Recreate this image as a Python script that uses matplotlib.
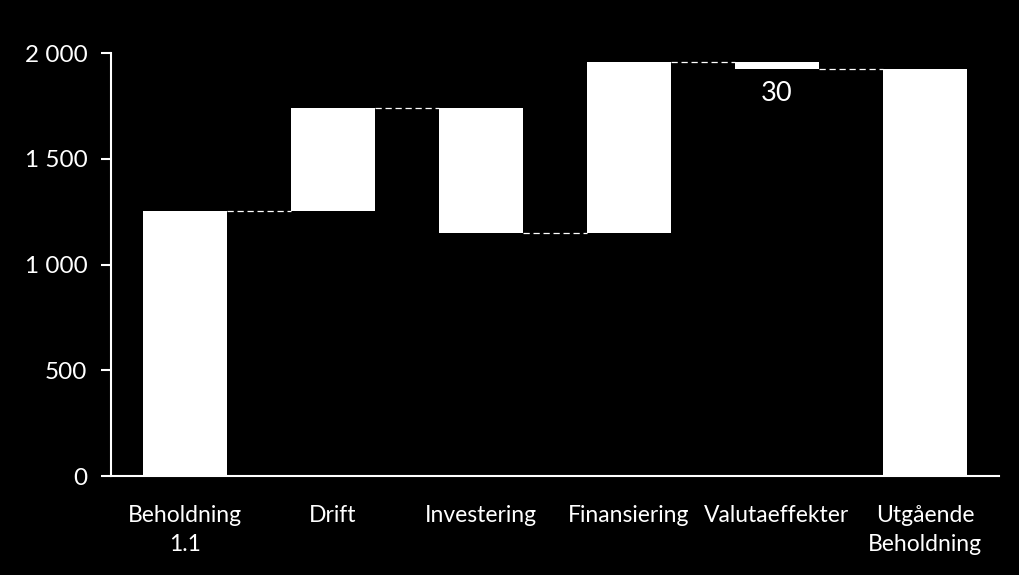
import matplotlib
matplotlib.use("Agg")
import matplotlib.pyplot as plt

# ── Data ──────────────────────────────────────────────────────────────
categories = ["Beholdning\n1.1", "Drift", "Investering", "Finansiering",
              "Valutaeffekter", "Utgående\nBeholdning"]
changes = [1253, 487, -593, 810, -30, None]   # None = total bar
label_values = [None, None, None, None, 30, None]

BG = "#000000"
FG = "#ffffff"

plt.rcParams["font.family"] = ["Lato", "DejaVu Sans"]

# waterfall bottoms / heights
bottoms, heights, levels = [], [], []
level = 0
for i, c in enumerate(changes):
    if c is None:
        bottoms.append(0)
        heights.append(level)
    elif i == 0:
        bottoms.append(0)
        heights.append(c)
        level = c
    else:
        bottoms.append(min(level, level + c))
        heights.append(abs(c))
        level = level + c
    levels.append(level)

fig = plt.figure(figsize=(10.2, 5.75), dpi=100)
fig.patch.set_facecolor(BG)
ax = fig.add_axes([0.1088, 0.172, 0.8706, 0.7357])
ax.set_facecolor(BG)

x = list(range(len(categories)))
width = 0.574
ax.bar(x, heights, bottom=bottoms, width=width, color=FG, edgecolor="none", zorder=3)

# connector lines
for i in range(len(x) - 1):
    ax.plot([x[i] + width / 2, x[i + 1] - width / 2], [levels[i], levels[i]],
            color=FG, linestyle=(0, (5, 3)), linewidth=0.9, zorder=2)

# data labels
for i, v in enumerate(label_values):
    if v is not None:
        ax.text(x[i], bottoms[i] - 60, f"{v}", ha="center", va="top",
                color=FG, fontsize=19.5)

ax.set_xlim(-0.5, len(x) - 0.5)
ax.set_ylim(0, 2000)
ax.set_yticks([0, 500, 1000, 1500, 2000])
ax.set_yticklabels(["0", "500", "1 000", "1 500", "2 000"])
ax.set_xticks(x)
ax.set_xticklabels(categories, linespacing=1.45)

ax.tick_params(axis="y", colors=FG, labelsize=17.5, length=7, width=1.5,
               direction="out", pad=10)
ax.tick_params(axis="x", colors=FG, labelsize=16.5, length=0, pad=21)

for s in ("top", "right"):
    ax.spines[s].set_visible(False)
for s in ("left", "bottom"):
    ax.spines[s].set_color(FG)
    ax.spines[s].set_linewidth(1.5)

fig.savefig("out.png", dpi=100, facecolor=BG)
plt.close(fig)
